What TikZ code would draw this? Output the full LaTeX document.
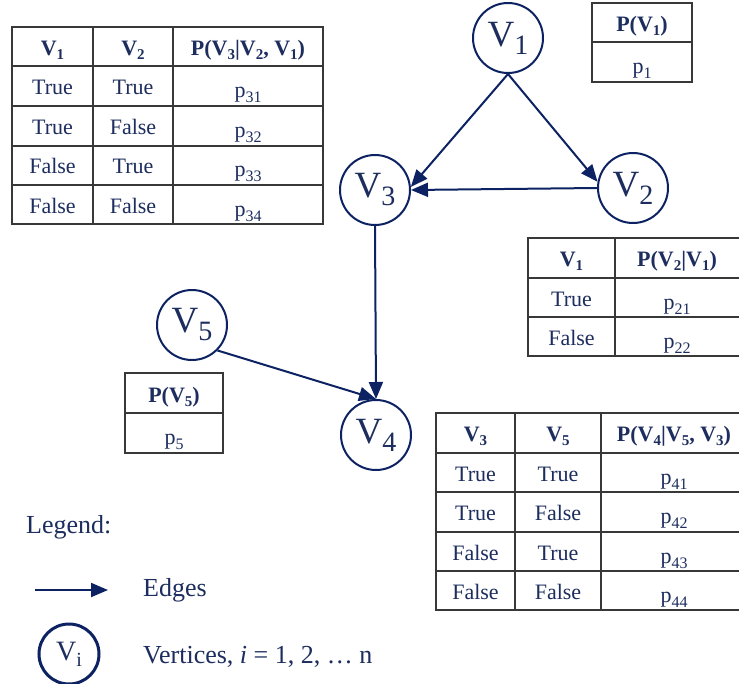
\documentclass[tikz,border=0pt]{standalone}
\usepackage{fontspec}
\setmainfont{Liberation Serif}
\usetikzlibrary{arrows.meta}
\definecolor{navytext}{HTML}{1C2D5E}
\definecolor{edgec}{HTML}{0C2262}
\definecolor{gridc}{HTML}{383838}
\newcommand{\hsub}[1]{\raisebox{-4pt}{\fontsize{15}{15}\selectfont #1}}
\newcommand{\psub}[1]{p\raisebox{-5pt}{\fontsize{16}{16}\selectfont #1}}
\newcommand{\vtx}[1]{V\raisebox{-8pt}{\fontsize{28}{28}\selectfont #1}}
\tikzset{
  vert/.style={circle, draw=edgec, line width=2pt, minimum size=70pt, inner sep=0pt,
    text=navytext, font=\fontsize{37}{37}\selectfont},
  edge/.style={draw=edgec, line width=2pt, -{Triangle[length=17pt,width=14pt]}},
  tabline/.style={draw=gridc, line width=1.4pt},
  ct/.style={text=navytext, font=\fontsize{22}{22}\selectfont, anchor=base, inner sep=0pt},
  ch/.style={ct, font=\fontsize{22}{22}\selectfont\bfseries},
  legtext/.style={text=navytext, font=\fontsize{26}{26}\selectfont, anchor=west, inner sep=0pt},
}
\begin{document}
\begin{tikzpicture}[x=1pt, y=-1pt]
\useasboundingbox (0,0) rectangle (739,683);
\clip (0,0) rectangle (739,683);
\fill[white] (0,0) rectangle (739,683);

% ---------- Table P(V3|V2,V1)
\draw[tabline] (12,27) rectangle (323,224);
\draw[tabline] (93,27) -- (93,224) (173,27) -- (173,224);
\foreach \yy in {66,106,146,185} \draw[tabline] (12,\yy) -- (323,\yy);
\node[ch] (a11) at (52.5,55) {V\hsub{1}};
\node[ch] (a12) at (133,55) {V\hsub{2}};
\node[ch] (a13) at (248,55) {P(V\hsub{3}|V\hsub{2}, V\hsub{1})};
\node[ct] (a21) at (52.5,94) {True};
\node[ct] (a22) at (133,94) {True};
\node[ct] (a23) at (248,97) {\psub{31}};
\node[ct] (a31) at (52.5,134) {True};
\node[ct] (a32) at (133,134) {False};
\node[ct] (a33) at (248,137) {\psub{32}};
\node[ct] (a41) at (52.5,173) {False};
\node[ct] (a42) at (133,173) {True};
\node[ct] (a43) at (248,176) {\psub{33}};
\node[ct] (a51) at (52.5,213) {False};
\node[ct] (a52) at (133,213) {False};
\node[ct] (a53) at (248,216) {\psub{34}};

% ---------- Table P(V1)
\draw[tabline] (592,3) rectangle (692,82);
\draw[tabline] (592,42) -- (692,42);
\node[ch] (b1) at (642,31) {P(V\hsub{1})};
\node[ct] (b2) at (642,73) {\psub{1}};

% ---------- Table P(V2|V1)
\draw[tabline] (528,238) rectangle (760,356);
\draw[tabline] (615,238) -- (615,356);
\draw[tabline] (528,278) -- (760,278) (528,317) -- (760,317);
\node[ch] (c11) at (571.5,266) {V\hsub{1}};
\node[ch] (c12) at (677,266) {P(V\hsub{2}|V\hsub{1})};
\node[ct] (c21) at (571.5,306) {True};
\node[ct] (c22) at (677,309) {\psub{21}};
\node[ct] (c31) at (571.5,345) {False};
\node[ct] (c32) at (677,348) {\psub{22}};

% ---------- Table P(V5)
\draw[tabline] (125,373) rectangle (223,453);
\draw[tabline] (125,413) -- (223,413);
\node[ch] (d1) at (174,402) {P(V\hsub{5})};
\node[ct] (d2) at (174,444) {\psub{5}};

% ---------- Table P(V4|V5,V3)
\draw[tabline] (436,413) rectangle (760,610);
\draw[tabline] (515,413) -- (515,610) (601,413) -- (601,610);
\foreach \yy in {453,492,532,571} \draw[tabline] (436,\yy) -- (760,\yy);
\node[ch] (e11) at (475.5,441) {V\hsub{3}};
\node[ch] (e12) at (558,441) {V\hsub{5}};
\node[ch] (e13) at (674,441) {P(V\hsub{4}|V\hsub{5}, V\hsub{3})};
\node[ct] (e21) at (475.5,481) {True};
\node[ct] (e22) at (558,481) {True};
\node[ct] (e23) at (674,484) {\psub{41}};
\node[ct] (e31) at (475.5,520) {True};
\node[ct] (e32) at (558,520) {False};
\node[ct] (e33) at (674,523) {\psub{42}};
\node[ct] (e41) at (475.5,560) {False};
\node[ct] (e42) at (558,560) {True};
\node[ct] (e43) at (674,563) {\psub{43}};
\node[ct] (e51) at (475.5,599) {False};
\node[ct] (e52) at (558,599) {False};
\node[ct] (e53) at (674,602) {\psub{44}};

% ---------- Vertices
\node[vert] (V1) at (508,38) {\vtx{1}};
\node[vert] (V3) at (375,190) {\vtx{3}};
\node[vert] (V2) at (633,188) {\vtx{2}};
\node[vert] (V5) at (192,325) {\vtx{5}};
\node[vert] (V4) at (376,435) {\vtx{4}};

% ---------- Edges
\draw[edge] (V1.south) -- (V3.5);
\draw[edge] (V1.south) -- (V2.170);
\draw[edge] (V2.west) -- (V3.east);
\draw[edge] (V3.south) -- (V4.north);
\draw[edge] (V5.-45) -- (V4.north);

% ---------- Legend
\node[legtext] (leg) at (26,527) {Legend:};
\coordinate (la) at (35,590);
\coordinate (lb) at (108,590);
\draw[edge] (la) -- (lb);
\node[legtext] (edg) at (143,590) {Edges};
\node[vert, line width=3pt, minimum size=60pt, font=\fontsize{28}{28}\selectfont] (Vi) at (69,654)
  {V\raisebox{-6pt}{\fontsize{20}{20}\selectfont i}};
\node[legtext] (vtxt) at (143,657) {Vertices, \textit{i} = 1, 2, … n};
\end{tikzpicture}
\end{document}
